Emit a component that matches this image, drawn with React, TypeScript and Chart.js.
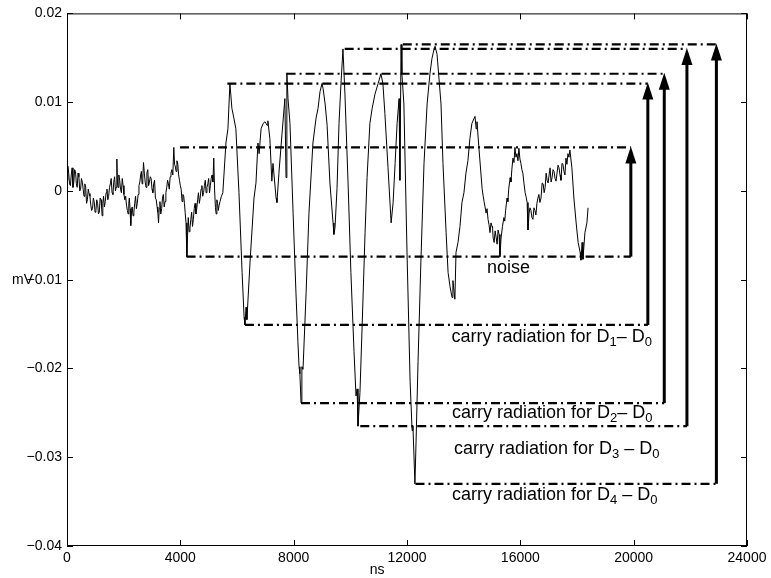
import React, { useEffect, useRef } from 'react';
import { Chart, registerables } from 'chart.js';

Chart.register(...registerables);

const FONT = '"Liberation Sans", Arial, Helvetica, sans-serif';

const xTicks = [0, 4000, 8000, 12000, 16000, 20000, 24000];
const xTickLabels = ['0', '4000', '8000', '12000', '16000', '20000', '24000'];
const yTicks = [-0.04, -0.03, -0.02, -0.01, 0, 0.01, 0.02];
const yTickLabels = ['\u22120.04', '\u22120.03', '\u22120.02', '\u22120.01', '0', '0.01', '0.02'];

// measured signal: [time ns, amplitude mV]
const signal: [number, number][] = [
  [0, 0.0012], [30, 0.0028], [60, 0.0020], [90, 0.0008], [120, 0.0006], [150, 0.0018],
  [180, 0.0026], [210, 0.0004], [240, 0.0010], [270, 0.0024], [300, 0.0022], [330, 0.0008],
  [360, 0.0004], [390, 0.0020], [420, 0.0016], [450, 0.0000], [480, 0.0002], [510, 0.0014],
  [540, 0.0010], [570, 0.0002], [600, -0.0006], [630, 0.0008], [660, 0.0004], [690, -0.0014],
  [720, -0.0010], [750, 0.0002], [780, -0.0003], [810, -0.0006], [840, -0.0016], [870, -0.0022],
  [900, -0.0020], [930, -0.0008], [960, -0.0012], [990, -0.0024], [1020, -0.0022], [1050, -0.0010],
  [1080, -0.0014], [1110, -0.0026], [1140, -0.0024], [1170, -0.0008], [1200, -0.0010], [1220, -0.0018],
  [1240, -0.0028], [1265, -0.0014], [1290, -0.0006], [1320, -0.0018], [1350, -0.0012], [1380, -0.0002],
  [1410, 0.0002], [1440, -0.0010], [1470, -0.0006], [1500, 0.0004], [1530, 0.0008], [1560, 0.0014],
  [1590, -0.0002], [1620, -0.0004], [1650, 0.0010], [1680, 0.0016], [1710, 0.0000], [1735, 0.0004],
  [1760, 0.0036], [1780, 0.0010], [1800, 0.0004], [1830, 0.0018], [1860, 0.0012], [1890, 0.0002],
  [1920, -0.0002], [1950, 0.0014], [1980, 0.0006], [2010, -0.0004], [2040, -0.0010], [2070, -0.0006],
  [2100, -0.0016], [2130, -0.0022], [2160, -0.0026], [2180, -0.0014], [2200, -0.0008], [2225, -0.0020],
  [2250, -0.0039], [2275, -0.0022], [2300, -0.0018], [2330, -0.0028], [2360, -0.0024], [2390, -0.0014],
  [2420, -0.0006], [2450, -0.0020], [2480, -0.0014], [2510, -0.0004], [2540, 0.0006], [2570, 0.0010],
  [2600, 0.0018], [2625, 0.0022], [2650, 0.0008], [2675, 0.0014], [2700, 0.0032], [2730, 0.0020],
  [2760, 0.0010], [2790, 0.0004], [2820, 0.0020], [2850, 0.0024], [2880, 0.0006], [2910, 0.0010],
  [2940, 0.0016], [2970, 0.0014], [3000, 0.0002], [3030, -0.0002], [3060, 0.0008], [3090, 0.0012],
  [3120, -0.0008], [3150, -0.0010], [3180, -0.0018], [3205, -0.0024], [3230, -0.0036], [3255, -0.0020],
  [3280, -0.0012], [3310, -0.0026], [3340, -0.0020], [3370, -0.0008], [3400, -0.0004], [3430, -0.0018],
  [3460, -0.0012], [3490, -0.0002], [3520, 0.0004], [3550, 0.0012], [3580, 0.0008], [3610, 0.0002],
  [3640, 0.0016], [3670, 0.0020], [3700, 0.0024], [3735, 0.0018], [3770, 0.0049], [3795, 0.0030],
  [3820, 0.0028], [3850, 0.0022], [3880, 0.0034], [3910, 0.0030], [3940, 0.0018], [3970, 0.0012],
  [4000, 0.0006], [4030, 0.0002], [4060, -0.0012], [4090, -0.0004], [4120, -0.0006], [4145, -0.0014],
  [4170, -0.0024], [4200, -0.0036], [4230, -0.0074], [4255, -0.0050], [4280, -0.0030], [4310, -0.0046],
  [4340, -0.0042], [4370, -0.0032], [4400, -0.0024], [4430, -0.0040], [4460, -0.0032], [4490, -0.0020],
  [4520, -0.0014], [4550, -0.0026], [4580, -0.0020], [4610, -0.0010], [4640, -0.0002], [4670, -0.0014],
  [4700, -0.0008], [4730, 0.0002], [4760, 0.0006], [4790, -0.0006], [4820, -0.0002], [4850, 0.0006],
  [4880, 0.0012], [4910, -0.0002], [4940, 0.0004], [4970, 0.0008], [5000, 0.0014], [5030, -0.0002],
  [5060, 0.0006], [5090, 0.0014], [5120, 0.0018], [5150, 0.0010], [5180, 0.0037], [5210, 0.0000],
  [5240, -0.0019], [5265, -0.0026], [5290, -0.0010], [5315, -0.0014], [5340, -0.0022], [5370, -0.0016],
  [5400, -0.0012], [5450, -0.0006], [5500, -0.0002], [5610, 0.0054],
  [5680, 0.0070], [5750, 0.0121], [5820, 0.0093], [5890, 0.0082], [5960, 0.0070], [6070, -0.0002],
  [6180, -0.0092], [6250, -0.0142], [6280, -0.0151], [6320, -0.0131], [6350, -0.0145], [6460, -0.0080],
  [6600, -0.0008], [6670, 0.0009], [6740, 0.0054], [6780, 0.0042], [6850, 0.0070], [6920, 0.0076],
  [6990, 0.0078], [7060, 0.0074], [7090, 0.0079], [7160, 0.0059], [7230, 0.0011], [7270, 0.0031],
  [7380, -0.0008], [7410, -0.0013], [7480, 0.0020], [7590, 0.0065], [7690, 0.0104], [7730, 0.0015],
  [7760, 0.0133], [7800, 0.0104], [7870, 0.0076], [7980, -0.0025], [8080, -0.0114], [8150, -0.0170],
  [8190, -0.0198], [8220, -0.0206], [8260, -0.0239], [8290, -0.0198], [8330, -0.0201], [8440, -0.0114],
  [8540, -0.0025], [8680, 0.0054], [8790, 0.0082], [8860, 0.0093], [8930, 0.0112], [9000, 0.0121],
  [9040, 0.0115], [9110, 0.0098], [9180, 0.0074], [9280, 0.0009], [9390, -0.0036], [9420, -0.0049],
  [9460, -0.0041], [9530, 0.0003], [9600, 0.0076], [9670, 0.0121], [9740, 0.0160], [9810, 0.0109],
  [9920, 0.0009], [10020, -0.0092], [10130, -0.0181], [10200, -0.0231], [10240, -0.0223], [10270, -0.0265],
  [10340, -0.0227], [10410, -0.0159], [10520, -0.0047], [10590, 0.0015], [10690, 0.0076], [10770, 0.0093],
  [10870, 0.0109], [10980, 0.0121], [11080, 0.0132], [11150, 0.0121], [11220, 0.0087], [11330, 0.0026],
  [11440, -0.0036], [11510, -0.0013], [11580, 0.0031], [11650, 0.0076], [11720, 0.0104], [11750, 0.0012],
  [11790, 0.0165], [11820, 0.0132], [11890, 0.0098], [12000, -0.0069], [12110, -0.0215], [12180, -0.0270],
  [12210, -0.0265], [12280, -0.0330], [12320, -0.0282], [12390, -0.0192], [12490, -0.0080], [12600, 0.0031],
  [12710, 0.0098], [12810, 0.0132], [12880, 0.0149], [12950, 0.0159], [12990, 0.0163], [13060, 0.0154],
  [13130, 0.0126], [13200, 0.0098], [13270, 0.0031], [13380, -0.0047], [13450, -0.0092], [13520, -0.0108],
  [13590, -0.0120], [13620, -0.0101], [13690, -0.0122], [13730, -0.0069], [13800, -0.0058], [13870, -0.0040],
  [13940, -0.0013], [14010, -0.0002], [14080, 0.0020], [14150, 0.0034], [14220, 0.0059], [14290, 0.0076],
  [14370, 0.0082], [14400, 0.0084], [14440, 0.0070], [14470, 0.0078], [14540, 0.0048], [14650, 0.0003],
  [14690, -0.0006], [14720, -0.0012], [14755, -0.0018], [14790, -0.0025], [14825, -0.0020], [14860, -0.0032],
  [14895, -0.0038], [14930, -0.0047], [14965, -0.0036], [15000, -0.0040], [15020, -0.0042], [15040, -0.0053],
  [15075, -0.0058], [15110, -0.0045], [15145, -0.0052], [15180, -0.0060], [15215, -0.0044], [15250, -0.0049],
  [15280, -0.0074], [15320, -0.0053], [15370, -0.0040], [15420, -0.0030], [15450, -0.0034], [15480, -0.0022],
  [15530, -0.0008], [15560, -0.0012], [15590, 0.0002], [15640, 0.0015], [15670, 0.0010], [15700, 0.0024],
  [15740, 0.0037], [15775, 0.0032], [15810, 0.0049], [15845, 0.0038], [15880, 0.0042], [15915, 0.0034],
  [15950, 0.0048], [15985, 0.0036], [16020, 0.0031], [16055, 0.0024], [16090, 0.0020], [16130, 0.0008],
  [16170, -0.0002], [16200, -0.0006], [16240, -0.0013], [16270, -0.0044], [16305, -0.0026], [16340, -0.0019],
  [16375, -0.0022], [16410, -0.0030], [16445, -0.0032], [16480, -0.0019], [16515, -0.0022], [16550, -0.0027],
  [16585, -0.0014], [16620, -0.0008], [16655, -0.0004], [16690, -0.0013], [16730, -0.0008], [16770, 0.0009],
  [16805, 0.0008], [16840, -0.0002], [16875, 0.0004], [16910, 0.0020], [16945, 0.0012], [16980, 0.0009],
  [17015, 0.0018], [17050, 0.0026], [17085, 0.0010], [17120, 0.0015], [17155, 0.0024], [17190, 0.0022],
  [17225, 0.0014], [17260, 0.0011], [17295, 0.0020], [17330, 0.0029], [17365, 0.0026], [17400, 0.0018],
  [17435, 0.0012], [17470, 0.0031], [17505, 0.0030], [17540, 0.0022], [17575, 0.0018], [17610, 0.0037],
  [17645, 0.0030], [17680, 0.0042], [17715, 0.0038], [17750, 0.0046], [17820, 0.0026], [17890, -0.0008],
  [17970, -0.0036], [18040, -0.0058], [18110, -0.0069], [18140, -0.0078], [18180, -0.0058], [18210, -0.0077],
  [18280, -0.0047], [18350, -0.0036], [18390, -0.0019],
];

// reference levels (top, bottom) for noise, D1..D4
const refLevels = [0.0049, -0.0074, 0.0121, -0.0151, 0.0132, -0.0239, 0.0160, -0.0265, 0.0165, -0.0330];
const refStart = [3990, 4220, 5660, 6280, 7750, 8260, 9800, 10350, 11850, 12300];
const arrowX = [19900, 20500, 21080, 21880, 22920];

const annoText = [
  'noise',
  'carry radiation for D_1\u2013 D_0',
  'carry radiation for D_2\u2013 D_0',
  'carry radiation for D_3 \u2013 D_0',
  'carry radiation for D_4 \u2013 D_0',
];
const annoX = [14820, 13570, 13590, 13660, 13590];
const annoY = [-0.0092, -0.0170, -0.0256, -0.0296, -0.0348];

const xTitle = 'ns';
const yTitle = 'mV';

function drawRich(ctx: CanvasRenderingContext2D, text: string, x: number, y: number) {
  const parts = text.split(/(_.)/).filter((p) => p.length > 0);
  let cx = x;
  for (const p of parts) {
    if (p[0] === '_') {
      ctx.font = `13px ${FONT}`;
      ctx.fillText(p[1], cx, y + 4);
      cx += ctx.measureText(p[1]).width;
    } else {
      ctx.font = `18px ${FONT}`;
      ctx.fillText(p, cx, y);
      cx += ctx.measureText(p).width;
    }
  }
}

const decorPlugin = {
  id: 'decor',
  afterDatasetsDraw(chart: any) {
    const { ctx, scales } = chart;
    const xs = scales.x;
    const ys = scales.y;
    ctx.save();
    ctx.fillStyle = '#000';
    ctx.strokeStyle = '#000';
    for (let i = 0; i < arrowX.length; i++) {
      const px = xs.getPixelForValue(arrowX[i]);
      const yTop = ys.getPixelForValue(refLevels[2 * i]);
      const yBot = ys.getPixelForValue(refLevels[2 * i + 1]);
      ctx.lineWidth = 3;
      ctx.beginPath();
      ctx.moveTo(px, yBot);
      ctx.lineTo(px, yTop + 12);
      ctx.stroke();
      ctx.beginPath();
      ctx.moveTo(px, yTop - 1);
      ctx.lineTo(px - 5.5, yTop + 16);
      ctx.lineTo(px + 5.5, yTop + 16);
      ctx.closePath();
      ctx.fill();
    }
    ctx.textAlign = 'left';
    ctx.textBaseline = 'alphabetic';
    for (let i = 0; i < annoText.length; i++) {
      drawRich(ctx, annoText[i], xs.getPixelForValue(annoX[i]), ys.getPixelForValue(annoY[i]));
    }
    ctx.restore();
  },
  afterDraw(chart: any) {
    const { ctx, chartArea: a, scales } = chart;
    const xs = scales.x;
    const ys = scales.y;
    ctx.save();
    ctx.strokeStyle = '#000';
    ctx.lineWidth = 1;
    ctx.strokeRect(a.left + 0.5, a.top + 0.5, a.right - a.left - 1, a.bottom - a.top - 1);
    ctx.beginPath();
    for (const v of xTicks) {
      const px = Math.round(xs.getPixelForValue(v)) + 0.5;
      ctx.moveTo(px, a.bottom);
      ctx.lineTo(px, a.bottom - 6);
      ctx.moveTo(px, a.top);
      ctx.lineTo(px, a.top + 6);
    }
    for (const v of yTicks) {
      const py = Math.round(ys.getPixelForValue(v)) + 0.5;
      ctx.moveTo(a.left, py);
      ctx.lineTo(a.left + 6, py);
      ctx.moveTo(a.right, py);
      ctx.lineTo(a.right - 6, py);
    }
    ctx.stroke();
    ctx.fillStyle = '#000';
    ctx.font = `14px ${FONT}`;
    ctx.textAlign = 'center';
    ctx.textBaseline = 'alphabetic';
    ctx.fillText(xTitle, a.left + (a.right - a.left) * 0.456, a.bottom + 28);
    ctx.textAlign = 'right';
    ctx.textBaseline = 'middle';
    ctx.fillText(yTitle, a.left - 34, (a.top + a.bottom) / 2);
    ctx.restore();
  },
};

export default function App() {
  const ref = useRef<HTMLCanvasElement | null>(null);
  useEffect(() => {
    document.body.style.margin = '0';
    const canvas = ref.current;
    if (!canvas) return;
    const refDatasets = refLevels.map((lvl, i) => ({
      data: [
        { x: refStart[i], y: lvl },
        { x: arrowX[Math.floor(i / 2)], y: lvl },
      ],
      borderColor: '#000',
      borderWidth: 2.2,
      borderDash: [9, 4, 2, 4],
      pointRadius: 0,
      fill: false,
      order: 1,
    }));
    const chart = new Chart(canvas, {
      type: 'line',
      data: {
        datasets: [
          {
            data: signal.map(([t, v]) => ({ x: t, y: v })),
            borderColor: '#000',
            borderWidth: 1,
            pointRadius: 0,
            tension: 0,
            fill: false,
            order: 2,
          },
          ...refDatasets,
        ] as any,
      },
      options: {
        responsive: false,
        animation: false,
        layout: { padding: { top: 9, right: 24, left: 0, bottom: 0 } },
        plugins: { legend: { display: false }, tooltip: { enabled: false } },
        scales: {
          x: {
            type: 'linear',
            min: 0,
            max: 24000,
            afterBuildTicks: (s: any) => {
              s.ticks = xTicks.map((v) => ({ value: v }));
            },
            afterFit: (s: any) => {
              s.height = 32;
            },
            grid: { display: false, drawTicks: false },
            border: { display: false },
            ticks: {
              autoSkip: false,
              maxRotation: 0,
              padding: 4,
              color: '#000',
              font: { family: FONT, size: 14 },
              callback: (v: any) => xTickLabels[xTicks.indexOf(Number(v))] ?? '',
            },
          },
          y: {
            type: 'linear',
            min: -0.04,
            max: 0.02,
            afterBuildTicks: (s: any) => {
              s.ticks = yTicks.map((v) => ({ value: v }));
            },
            afterFit: (s: any) => {
              s.width = 67;
            },
            grid: { display: false, drawTicks: false },
            border: { display: false },
            ticks: {
              autoSkip: false,
              padding: 5,
              color: '#000',
              font: { family: FONT, size: 14 },
              callback: (v: any) => yTickLabels[yTicks.indexOf(Number(v))] ?? '',
            },
          },
        },
      } as any,
      plugins: [decorPlugin],
    });
    return () => chart.destroy();
  }, []);
  return (
    <div style={{ position: 'absolute', left: 0, top: 0, width: 771, height: 578, background: '#fff' }}>
      <canvas ref={ref} width={771} height={578} />
    </div>
  );
}
